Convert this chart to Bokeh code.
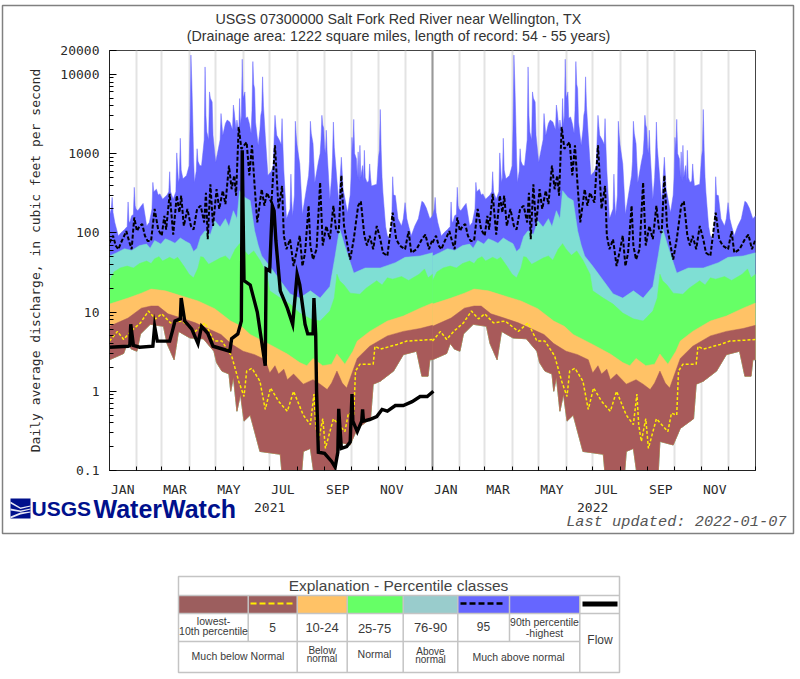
import numpy as np
from bokeh.embed import file_html
from bokeh.resources import INLINE
from bokeh.plotting import figure
from bokeh.layouts import column
from bokeh.core.properties import value
from bokeh.models import Range1d, LinearAxis, FixedTicker, Span

# ---- data (day of year, cfs) ----
min_days = [0,16,20,25,31,35,46,61,65,73,78,91,106,118,121,127,135,137,140,144,148,152,159,170,193,195,217,219,227,231,255,257,272,280,295,298,306,321,332,347,353,360,362,365]
min_vals = [2.5,3.0,4.0,3.4,3.2,5.3,7.0,6.6,4.0,2.5,5.7,4.7,4.6,3.2,2.3,1.8,1.65,1.0,1.5,.56,.92,.42,.5,.174,.16,.09,.09,.174,.19,.09,.09,.233,.21,.34,.45,1.23,1.34,1.8,2.9,3.2,1.55,1.55,2.5,2.5]
p10_days = [0,21,36,47,55,66,81,97,111,126,137,151,164,176,181,187,191,197,201,208,219,230,238,246,251,257,263,268,280,294,314,332,351,365]
p10_vals = [6.6,8.4,11.2,11.9,11.9,9.5,8.4,7.3,6.2,5.2,4.0,3.2,2.9,2.5,1.7,2.1,1.65,1.9,1.4,1.65,1.23,1.4,1.23,1.05,1.27,1.8,1.27,1.1,2.6,3.7,5.0,5.7,6.2,6.8]
p25_days = [0,21,36,47,63,81,100,119,137,149,159,181,201,215,223,230,241,251,257,266,275,280,294,314,332,351,365]
p25_vals = [12.6,15,17.3,19.5,18.5,16,13.8,11,7.7,6.6,5.2,3.9,2.95,2.3,2.1,2.6,2.1,2.2,2.95,2.2,3.2,4.3,5.7,7.7,8.9,11.2,13]
p75_days = [0,5,12,20,27,34,42,47,51,56,60,68,73,77,84,90,95,100,103,106,112,119,125,131,136,142,147,151,157,163,170,178,181,193,204,215,227,238,249,254,257,260,265,272,283,290,302,308,314,320,330,338,343,350,356,360,365]
p75_vals = [24.8,32,36,38,36,41,44,41,47,50,44,49,46,49,38,30,27,36,50,49,40,44,48,51,45,62,73,62,52,59,45,30,18.5,15,12.6,9.7,8.2,7.7,10.3,15,30,24.8,22,17.3,16.8,20,24.8,22,27,26,28,25,27,30,35,27,30]
p90_days = [0,8,17,25,34,42,46,51,58,63,68,74,80,86,91,95,99,103,108,114,119,125,131,135,140,144,147,153,159,162,164,168,172,181,193,204,215,227,238,249,255,260,266,276,289,306,323,334,351,365]
p90_vals = [51,56,63,60,69,72,64,80,72,84,80,74,86,78,73,58,64,90,106,95,142,118,151,120,190,150,340,280,255,150,106,70,51,38,25,17,15,18.5,15,21,51,113,68,31,36,36,42,49,51,56]
max_days = [0,2,3,4,6,10,13,17,20,21,22,23,25,27,28,29,30,32,36,38,40,42,45,48,49,50,53,55,57,60,65,67,68,69,72,75,76,77,78,79,80,81,83,87,90,91,92,93,94,95,96,98,99,100,102,104,106,107,108,109,110,112,113,114,116,117,120,123,125,126,128,131,133,136,139,140,141,143,144,146,147,148,149,150,151,153,154,156,158,160,161,162,163,164,165,168,170,171,172,173,174,176,179,183,185,186,187,188,189,192,194,195,196,197,200,204,205,206,207,209,210,211,212,215,218,221,225,226,227,228,230,232,236,238,239,240,241,242,243,244,245,246,249,251,252,253,254,256,259,262,264,269,272,273,274,275,276,277,279,280,281,282,283,284,286,287,288,289,291,293,294,295,296,302,304,305,306,307,308,309,312,314,317,319,320,321,323,326,330,332,334,336,338,341,345,349,353,355,358,362,365]
max_vals = [164,200,280,180,135,91,100,110,120,245,140,135,164,170,375,220,200,190,220,235,170,122,135,200,433,330,355,300,310,266,300,330,590,330,266,330,1020,670,430,500,1560,620,480,530,700,2170,17500,8050,3000,900,433,600,1150,800,705,700,1150,1500,12400,3000,1870,1500,6000,5000,4480,1700,780,1150,1500,3200,1700,2400,2650,2500,2000,4100,3350,2000,2650,1800,4950,2300,3000,15500,5000,6000,2800,2900,2400,1800,3500,14500,7500,6600,2500,1270,2000,3040,3500,9300,4000,1700,530,600,700,1500,3040,2200,1700,1470,1300,2760,1200,610,150,200,550,250,164,300,2560,1700,1270,740,172,280,530,800,2560,1800,1330,433,780,1000,1500,3040,2300,2100,1200,1000,1970,1000,266,500,900,2500,1200,640,240,900,355,180,300,500,1600,1100,2700,1000,860,500,1050,450,1270,500,705,450,1100,500,433,450,740,500,390,410,900,1100,3600,1100,500,320,120,92,83,150,510,300,295,150,122,150,240,150,122,92,122,150,250,240,205,150,164]
p95_days = [0,4,7,10,13,19,22,25,28,31,34,37,40,43,47,51,55,59,62,64,68,72,76,79,81,84,88,92,95,99,103,107,109,111,114,117,121,124,128,131,135,138,141,143,146,149,155,158,161,164,167,172,175,178,183,187,191,195,197,200,204,208,212,215,218,221,225,227,230,234,238,241,245,249,253,256,259,262,265,269,272,276,281,284,288,291,294,298,302,306,309,314,320,324,328,334,338,341,347,353,357,361,365]
p95_vals = [75,92,69,62,75,105,79,62,156,105,122,129,92,79,79,200,110,92,164,110,310,95,295,180,295,122,200,122,110,200,220,135,320,83,410,122,355,200,340,230,705,355,530,295,2170,1150,1390,530,1270,390,135,355,220,320,240,1270,200,390,92,62,83,38,62,92,38,56,220,69,46,62,433,69,122,83,220,110,100,530,122,69,46,83,220,250,92,69,92,62,122,83,56,51,180,83,69,62,105,56,62,83,95,62,83]
p05_days = [0,9,16,24,35,44,52,59,69,82,97,108,118,127,138,146,152,155,161,170,176,182,191,201,208,219,227,231,233,236,241,244,253,266,270,276,278,283,298,300,306,325,336,365]
p05_vals = [4.3,5.7,4.5,5.7,7.3,10.3,8.2,9.5,7.3,7.7,5.7,7.3,4.3,4.3,2.8,1.34,.86,1.8,1.95,1.34,.59,1.1,.75,.56,1.0,.5,.38,.92,.38,.233,.45,.19,.45,.31,.53,.5,1.8,2.2,2.2,3.7,3.4,3.9,4.3,4.5]
flow_days = [0,21,23,24,27,34,49,51,54,68,71,74,80,81,85,93,100,104,111,117,136,138,145,149,150,152,159,167,176,177,181,184,186,188,193,201,207,212,215,221,224,230,231,233,234,236,243,251,255,258,259,262,268,272,274,275,280,285,286,287,294,302,308,314,323,332,342,351,359,366]
flow_vals = [3.6,3.7,3.8,7,3.8,3.6,3.7,6.6,4.3,4.3,5.7,7.7,8.2,15,7.7,6.1,4,6.6,5.4,3.7,3.2,4.6,5.3,7.7,1100,25,22,10,2.1,35,33,220,190,80,18.5,11.2,7,30,22,7,5.3,5.3,15,5.3,1,.17,.165,.13,.11,.17,.6,.19,.2,.23,.92,.42,.31,.42,.59,.42,.44,.48,.59,.56,.66,.66,.74,.86,.86,1.0]

month_starts = [0,31,59,90,120,151,181,212,243,273,304,334,365,396,424,455,485,516,546,577,608,638,669,699,730]
month_labels = {15:"JAN",74:"MAR",135:"MAY",196:"JUL",258:"SEP",319:"NOV",380:"JAN",439:"MAR",500:"MAY",561:"JUL",623:"SEP",684:"NOV"}
year_labels = {181:"2021",546:"2022"}
y_major = {0.1:"0.1",1:"1",10:"10",100:"100",1000:"1000",10000:"10000",20000:"20000"}
y_minor = [m*10.0**e for e in range(-1,4) for m in range(2,10)]

MONO = "DejaVu Sans Mono"
SANS = "Liberation Sans"
TICK = "#2a2a2a"
W, H = 796, 676
CH = 528     # height of the chart's own canvas

# ---- backing sheet: one frame covering the window, its units are pixels from the top-left ----
f = figure(width=W, height=H, x_range=Range1d(0,W), y_range=Range1d(H,0), x_axis_type=None, y_axis_type=None,
           output_backend="svg", toolbar_location=None, min_border=0, margin=(0,0,0,0))
f.outline_line_color = None
f.grid.visible = False

def lab(x, y, text, size, font=SANS, color="#3a3a3a", style="normal", align="center"):
    f.text([x], [y], text=[text], text_font=value(font), text_font_size=f"{size}px", text_color=color,
           text_font_style=style, text_align=align, text_baseline="middle")
def box(l, t, r, b, fill=None, line=None, lw=1):
    f.quad(left=[l], right=[r], top=[t], bottom=[b], fill_color=fill, fill_alpha=1 if fill else 0,
           line_color=line, line_width=lw)

box(2, 5, 793, 533, None, "#808080", 1.5)
lab(398, 18, "USGS 07300000 Salt Fork Red River near Wellington, TX", 14.3, color="#333333")
lab(398, 35, "(Drainage area: 1222 square miles, length of record: 54 - 55 years)", 14.3, color="#333333")
lab(786, 521, "Last updated: 2022-01-07", 15.3, font="Liberation Mono", color="#555555", style="italic", align="right")

NAVY = "#00108c"
box(10, 498, 30, 518, NAVY)
f.patches([[10,20,30,30,20,10],[10,20,30,30,20,10],[10,20,30,30,20,10]],
          [[501,507,505,506,508.5,503],[508,510,508,509,511.5,510],[516,512,511,512,514,518]],
          fill_color="white", fill_alpha=0.9, line_color=None)
lab(31, 508, "USGS", 21, color=NAVY, style="bold", align="left")
lab(93, 508, "WaterWatch", 25, color=NAVY, style="bold", align="left")

GRID = "#c4c4c4"
cols = [178, 247.7, 296.7, 346.7, 402.7, 457.3, 509, 579.3, 619.3]
swatches = ["#9c5e5e","#9c5e5e","#ffc266","#66ff66","#99cccc","#6666ff","#6666ff"]
for i, c in enumerate(swatches):
    box(cols[i], 595, cols[i+1], 613, c)
box(178, 576, 619, 672, None, GRID, 1.5)
for y, r in ((595,619),(613,619),(641,579)):
    f.segment([178],[y],[r],[y], line_color=GRID, line_width=1.5)
for i, b in ((1,641),(2,672),(3,672),(4,672),(5,672),(6,641),(7,672)):
    f.segment([cols[i]],[595],[cols[i]],[b], line_color=GRID, line_width=1.5)
f.segment([250],[603],[295],[603], line_color="#ffee00", line_width=2, line_dash="6 3")
f.segment([460],[603],[505],[603], line_color="#000000", line_width=2.5, line_dash="6 3")
f.segment([582],[603.5],[617],[603.5], line_color="#000000", line_width=5)

lab(398, 585, "Explanation - Percentile classes", 15.5, color="#444444")
lab(213, 620.5, "lowest-", 10.5); lab(213, 630, "10th percentile", 10.5)
lab(272, 627, "5", 12); lab(321.5, 627, "10-24", 13); lab(374, 628, "25-75", 13); lab(430, 627, "76-90", 13); lab(483, 626, "95", 12)
lab(544, 621.5, "90th percentile", 10.5); lab(544, 632, "-highest", 10.5)
lab(599.5, 639, "Flow", 12)
lab(237.5, 655, "Much below Normal", 10.5)
lab(321.5, 650, "Below", 10); lab(321.5, 658, "normal", 10)
lab(374, 653, "Normal", 10.5)
lab(430, 651, "Above", 10); lab(430, 659, "normal", 10)
lab(518, 656, "Much above normal", 10.5)

# ---- the chart, laid over the sheet ----
p = figure(width=W, height=CH, x_range=Range1d(0,730), y_range=Range1d(0.1,20000), y_axis_type="log",
           output_backend="svg", toolbar_location=None,
           min_border_left=109, min_border_right=41, min_border_top=50, min_border_bottom=CH-470,
           margin=(0,0,0,0), background_fill_color="white", border_fill_alpha=0)
p.outline_line_color = "#444444"
p.ygrid.visible = False
p.xgrid.ticker = FixedTicker(ticks=month_starts)
p.xgrid.grid_line_color = "#e3e3e3"
p.xgrid.grid_line_width = 2
p.add_layout(Span(location=365, dimension="height", line_color="#999999", line_width=2, level="underlay"))

ya = p.yaxis[0]
ya.ticker = FixedTicker(ticks=list(y_major), minor_ticks=y_minor)
ya.major_label_overrides = y_major
ya.major_label_text_font = MONO
ya.major_label_text_font_size = "13px"
ya.major_label_text_color = TICK
ya.major_label_standoff = 10
ya.major_tick_in, ya.major_tick_out = 7, 0
ya.minor_tick_in, ya.minor_tick_out = 4, 0
ya.axis_line_color = "#222222"
ya.axis_label = "Daily average discharge, in cubic feet per second"
ya.axis_label_text_font = MONO
ya.axis_label_text_font_size = "13px"
ya.axis_label_text_font_style = "normal"
ya.axis_label_text_color = TICK
ya.axis_label_standoff = 14

xa = p.xaxis[0]
xa.ticker = FixedTicker(ticks=month_starts)
xa.major_label_overrides = {m: " " for m in month_starts}
xa.major_label_text_font_size = "1px"
xa.major_label_standoff = 0
xa.major_tick_in, xa.major_tick_out = 4, 0
xa.minor_tick_line_color = None
xa.axis_line_color = "#222222"
for ticks, labels, standoff in [(list(month_labels), month_labels, 7), (list(year_labels), year_labels, 3)]:
    ax = LinearAxis(ticker=FixedTicker(ticks=ticks), major_label_overrides=labels)
    ax.axis_line_color = None
    ax.major_tick_line_color = None
    ax.minor_tick_line_color = None
    ax.major_tick_in = ax.major_tick_out = 0
    ax.major_label_text_font = MONO
    ax.major_label_text_font_size = "13px"
    ax.major_label_text_color = TICK
    ax.major_label_standoff = standoff
    p.add_layout(ax, "below")

def band(top_d, top_v, color):
    td, tv, md, mv = map(np.asarray, (top_d, top_v, min_days, min_vals))
    xs = [np.r_[td+o, (md+o)[::-1]] for o in (0,365)]
    ys = [np.r_[tv, mv[::-1]] for o in (0,365)]
    p.patches(xs, ys, fill_color=color, line_color=color, line_width=0.5)

band(max_days, max_vals, "#6666ff")
band(p90_days, p90_vals, "#7fdfd4")
band(p75_days, p75_vals, "#66ff66")
band(p25_days, p25_vals, "#ffc266")
band(p10_days, p10_vals, "#a85a5a")

for o in (0,365):
    p.line(np.asarray(p05_days)+o, p05_vals, line_color="#ffee00", line_width=1.5, line_dash="3 2")
    p.line(np.asarray(p95_days)+o, p95_vals, line_color="#000000", line_width=2, line_dash="4 2")
p.line(flow_days, flow_vals, line_color="#000000", line_width=3.4, line_join="miter")

page = column(column(f, margin=(0,0,0,0)), column(p, margin=(-H,0,0,0)), spacing=0)
open("out.html", "w").write(file_html(page, INLINE))
